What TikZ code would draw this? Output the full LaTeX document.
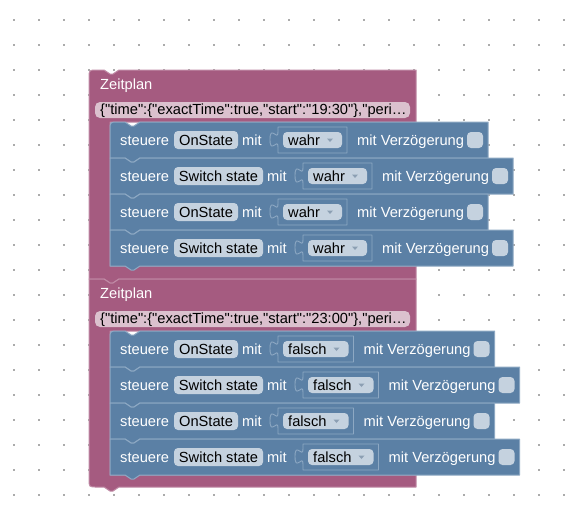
\documentclass[tikz,border=0pt]{standalone}
\usepackage{fontspec}
\setmainfont{Liberation Sans}[Ligatures=TeXOff]
\newcommand{\blkfont}{\fontsize{14.67}{17}\selectfont}
\definecolor{pinkb}{HTML}{A55B80}
\definecolor{pinkl}{HTML}{C08AA5}
\definecolor{blueb}{HTML}{5B80A5}
\definecolor{bluel}{HTML}{8DA8C3}
\definecolor{fieldb}{HTML}{C5D2DF}
\definecolor{fieldp}{HTML}{DBC1CE}
\definecolor{dotc}{HTML}{ABABAB}
\definecolor{arrowc}{HTML}{8C9FB3}
\tikzset{
  blockpink/.style={fill=pinkb, draw=pinkl, line width=1pt, line join=round},
  blockblue/.style={fill=blueb, draw=bluel, line width=1pt, line join=round},
  fieldbox/.style={fill=fieldb, draw=none, rounded corners=4pt},
  jsonbox/.style={fill=fieldp, draw=none, rounded corners=5pt},
  sock/.style={draw=bluel, line width=0.9pt, line join=round},
  wtxt/.style={anchor=base west, inner sep=0pt, text=white, font=\blkfont},
  btxt/.style={anchor=base west, inner sep=0pt, text=black, font=\blkfont},
}
% #1 name prefix, #2 top, #3 field extra width, #4 dropdown extra width, #5 field text, #6 dropdown text, #7 first in stack
\newcommand{\stRow}[7]{%
  \pgfmathsetmacro\rowR{488+#3+#4}%
  \ifnum#7=1
    \filldraw[blockblue] (110,#2+36) -- (110,#2+8) .. controls (110,#2) .. (118,#2) -- (125,#2) -- (131,#2+4) -- (134,#2+4) -- (140,#2) -- (\rowR,#2) -- (\rowR,#2+36) -- (140,#2+36) -- (134,#2+40) -- (131,#2+40) -- (125,#2+36) -- cycle;
  \else
    \filldraw[blockblue] (110,#2+36) -- (110,#2) -- (125,#2) -- (131,#2+4) -- (134,#2+4) -- (140,#2) -- (\rowR,#2) -- (\rowR,#2+36) -- (140,#2+36) -- (134,#2+40) -- (131,#2+40) -- (125,#2+36) -- cycle;
  \fi
  \node[wtxt] (#1st) at (120,#2+23) {steuere};
  \filldraw[fieldbox] (174,#2+9) rectangle (238+#3,#2+27);
  \node[btxt, anchor=base] (#1f) at (206+#3/2,#2+23) {#5};
  \node[wtxt] (#1m) at (242+#3,#2+23) {mit};
  \draw[sock] (278+#3,#2+10) -- (278+#3,#2+5) -- (347+#3+#4,#2+5) -- (347+#3+#4,#2+31) -- (278+#3,#2+31) -- (278+#3,#2+25) .. controls (278+#3,#2+15) and (270+#3,#2+33) .. (270+#3,#2+17.5) .. controls (270+#3,#2+2) and (278+#3,#2+20) .. (278+#3,#2+10);
  \filldraw[fieldbox] (283+#3,#2+10) rectangle (342+#3+#4,#2+26);
  \node[btxt] (#1d) at (288+#3,#2+23) {#6};
  \fill[arrowc] (327+#3+#4,#2+16.5) -- (333+#3+#4,#2+16.5) -- (330+#3+#4,#2+20) -- cycle;
  \node[wtxt] (#1v) at (357+#3+#4,#2+23) {mit Verzögerung};
  \filldraw[fieldbox] (467+#3+#4,#2+10) rectangle (483+#3+#4,#2+26);
}
\begin{document}
\begin{tikzpicture}[x=1pt,y=-1pt]
\useasboundingbox (0,0) rectangle (569,512);
\fill[white] (0,0) rectangle (569,512);
% grid dots
\foreach \i in {0,...,22}{
  \foreach \j in {0,...,19}{
    \fill[dotc] (13.4+25*\i,19.4+25*\j) rectangle ++(1.2,1.2);
  }
}
% Zeitplan block 1
\filldraw[blockpink] (89,279) -- (89,78) .. controls (89,70) .. (97,70) -- (104,70) -- (110,74) -- (113,74) -- (119,70) -- (416,70) -- (416,122) -- (110,122) -- (110,266) -- (416,266) -- (416,279) -- (119,279) -- (113,283) -- (110,283) -- (104,279) -- cycle;
\node[wtxt] (z1) at (100,89) {Zeitplan};
\filldraw[jsonbox] (95,102) rectangle (410,118);
\node[btxt] (j1) at (100,114) {\{"time":\{"exactTime":true,"start":"19:30"\},"peri…};
% Zeitplan block 2
\filldraw[blockpink] (89,479) -- (89,279) -- (104,279) -- (110,283) -- (113,283) -- (119,279) -- (416,279) -- (416,331) -- (110,331) -- (110,475) -- (416,475) -- (416,487) -- (119,487) -- (113,491) -- (110,491) -- (104,487) -- (97,487) .. controls (89,487) .. (89,479) -- cycle;
\node[wtxt] (z2) at (100,298) {Zeitplan};
\filldraw[jsonbox] (95,311) rectangle (410,327);
\node[btxt] (j2) at (100,323) {\{"time":\{"exactTime":true,"start":"23:00"\},"peri…};
% statements block 1
\stRow{a1}{122}{0}{0}{OnState}{wahr}{1}
\stRow{a2}{158}{25}{0}{Switch state}{wahr}{0}
\stRow{a3}{194}{0}{0}{OnState}{wahr}{0}
\stRow{a4}{230}{25}{0}{Switch state}{wahr}{0}
% statements block 2
\stRow{b1}{331}{0}{6.5}{OnState}{falsch}{1}
\stRow{b2}{367}{25}{6.5}{Switch state}{falsch}{0}
\stRow{b3}{403}{0}{6.5}{OnState}{falsch}{0}
\stRow{b4}{439}{25}{6.5}{Switch state}{falsch}{0}
\end{tikzpicture}
\end{document}
